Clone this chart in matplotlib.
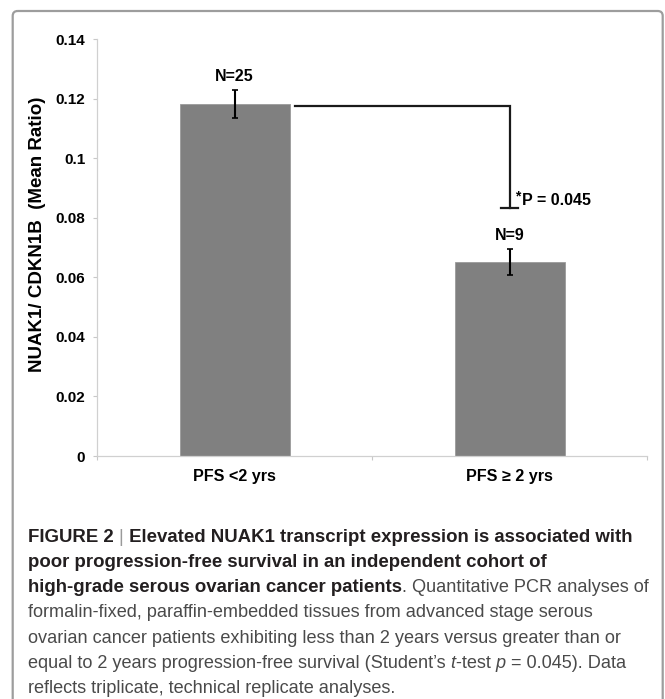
import matplotlib
matplotlib.use('Agg')
import matplotlib.pyplot as plt
from matplotlib.patches import FancyBboxPatch

# ---------------- data ----------------
categories = ['PFS <2 yrs', 'PFS \u2265 2 yrs']
means = [0.1183, 0.0651]
errors = [0.0048, 0.0044]
n_labels = ['N=25', 'N=9']
y_ticks = [0, 0.02, 0.04, 0.06, 0.08, 0.1, 0.12, 0.14]
y_tick_labels = ['0', '0.02', '0.04', '0.06', '0.08', '0.1', '0.12', '0.14']
bracket_bottom = 0.0834
p_label = 'P = 0.045'
y_label = 'NUAK1/ CDKN1B  (Mean Ratio)'

W, H = 665, 699
plt.rcParams['font.family'] = ['Liberation Sans', 'DejaVu Sans']
fig = plt.figure(figsize=(W / 100, H / 100), dpi=100)

# border box (pixel coords overlay)
overlay = fig.add_axes([0, 0, 1, 1], zorder=-1)
overlay.set_xlim(0, W)
overlay.set_ylim(H, 0)
overlay.axis('off')
overlay.add_patch(FancyBboxPatch((12.7, 11), 650, 740,
                                 boxstyle='round,pad=0,rounding_size=5',
                                 fc='none', ec='#9d9d9d', lw=1.6, clip_on=False))

# ---------------- main axes ----------------
ax = fig.add_axes([97.3 / W, 1 - 456 / H, (647 - 97.3) / W, (456 - 39.3) / H])
x = list(range(len(categories)))
ax.bar(x, means, width=0.4, color='#808080', edgecolor='#9a9a9a', linewidth=0.6, zorder=2)
ax.errorbar(x, means, yerr=errors, fmt='none', ecolor='black', elinewidth=1.5,
            capsize=2, capthick=1.2, zorder=3)
ax.set_xlim(-0.5, len(categories) - 0.5)
ax.set_ylim(y_ticks[0], y_ticks[-1])

ax.set_yticks(y_ticks, y_tick_labels)
ax.set_xticks(x, categories)
ax.set_xticks([i - 0.5 for i in range(len(categories) + 1)], minor=True)
ax.tick_params(axis='y', direction='out', length=2.9, width=0.8, color='#c8c8c8',
               pad=5.8, labelsize=11, labelcolor='black')
ax.tick_params(axis='x', which='major', length=0, pad=9.1, labelsize=11.6, labelcolor='black')
ax.tick_params(axis='x', which='minor', direction='out', length=3, width=0.8, color='#c8c8c8')
for lab in ax.get_xticklabels() + ax.get_yticklabels():
    lab.set_fontweight('bold')
for s in ['top', 'right']:
    ax.spines[s].set_visible(False)
for s in ['left', 'bottom']:
    ax.spines[s].set_color('#d0d0d0')
    ax.spines[s].set_linewidth(0.9)

# N labels
for xi, m, e, lab in zip(x, means, errors, n_labels):
    ax.annotate(lab, xy=(xi, m + e), xytext=(0, 9), textcoords='offset pixels',
                ha='center', va='baseline', fontsize=11.5, fontweight='bold')

# significance bracket
ybr = means[0] - 0.0007
ax.plot([x[0] + 0.22, x[1], x[1]], [ybr, ybr, bracket_bottom], color='#1a1a1a', lw=1.6,
        solid_joinstyle='miter', zorder=3)
ax.plot([x[1] - 0.031, x[1] + 0.031], [bracket_bottom, bracket_bottom], color='#1a1a1a',
        lw=1.6, zorder=3)
ax.annotate('*', xy=(x[1], bracket_bottom), xytext=(5, 11), textcoords='offset pixels',
            ha='left', va='center', fontsize=10, fontweight='bold')
ax.annotate(p_label, xy=(x[1], bracket_bottom), xytext=(12.5, 3), textcoords='offset pixels',
            ha='left', va='baseline', fontsize=11.5, fontweight='bold')

# y label
fig.text(37.5 / W, 1 - 234 / H, y_label, rotation=90, ha='center', va='center',
         fontsize=13.5, fontweight='bold')

# ---------------- caption ----------------
fig.canvas.draw()
renderer = fig.canvas.get_renderer()

BOLD = dict(fontsize=13.4, fontweight='bold', color='#231f20')
REG = dict(fontsize=13.1, fontweight='normal', color='#4a4a4a')
ITAL = dict(fontsize=13.1, fontweight='normal', style='italic', color='#4a4a4a')
BAR = dict(fontsize=13.4, fontweight='light', color='#9a9a9a')


def text_width(s, props):
    t = fig.text(0, 0, s, **props)
    w = t.get_window_extent(renderer).width
    t.remove()
    return w


def advance(s, props):
    return text_width('I' + s + 'I', props) - text_width('II', props)


def draw_line(pieces, x0, baseline):
    xp = x0
    for s, props in pieces:
        fig.text(xp / W, 1 - baseline / H, s, ha='left', va='baseline', **props)
        xp += advance(s, props)


caption = [
    [('FIGURE 2 ', BOLD), ('|', BAR), (' Elevated NUAK1 transcript expression is associated with', BOLD)],
    [('poor progression-free survival in an independent cohort of', BOLD)],
    [('high-grade serous ovarian cancer patients', BOLD), ('. Quantitative PCR analyses of', REG)],
    [('formalin-fixed, paraffin-embedded tissues from advanced stage serous', REG)],
    [('ovarian cancer patients exhibiting less than 2 years versus greater than or', REG)],
    [('equal to 2 years progression-free survival (Student\u2019s ', REG), ('t', ITAL),
     ('-test ', REG), ('p', ITAL), (' = 0.045). Data', REG)],
    [('reflects triplicate, technical replicate analyses.', REG)],
]
for i, line in enumerate(caption):
    draw_line(line, 28, 541.5 + 25.3 * i)

fig.savefig('out.png', dpi=100)
